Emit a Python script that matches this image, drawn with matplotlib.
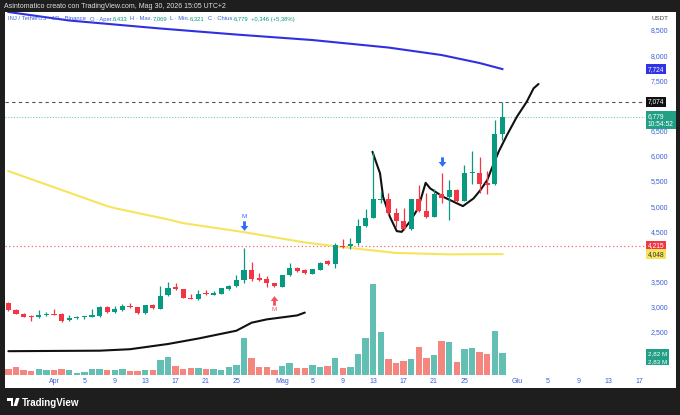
import numpy as np
import pandas as pd
import matplotlib
matplotlib.use('Agg')
import matplotlib.pyplot as plt
import matplotlib.dates as mdates
import matplotlib.transforms as mtransforms
from matplotlib.patches import Rectangle, Polygon
from matplotlib.path import Path

plt.rcParams['font.family'] = ['Liberation Sans', 'DejaVu Sans']

# ---------------- data ----------------
start_date = '2026-03-26'
opens = [3073, 2945, 2860, 2815, 2790, 2834, 2860, 2850, 2735, 2780,
         2790, 2800, 2815, 3000, 2890, 2935, 3020, 2990, 2870, 3030,
         2960, 3230, 3385, 3345, 3185, 3155, 3270, 3245, 3265, 3345,
         3410, 3525, 3725, 3575, 3545, 3465, 3398, 3625, 3775, 3730,
         3655, 3735, 3905, 3860, 4210, 4210, 4260, 4600, 4775, 5130,
         5135, 4870, 4710, 4540, 5135, 4910, 4790, 5240, 5175, 5330,
         5110, 5660, 5665, 5460, 5450, 6433]
highs = [3095, 2960, 2880, 2835, 2946, 2900, 2955, 2870, 2835, 2810,
         2825, 2965, 3010, 3010, 3020, 3060, 3070, 3000, 3045, 3050,
         3410, 3485, 3470, 3360, 3265, 3330, 3330, 3320, 3380, 3430,
         3630, 4170, 3895, 3680, 3620, 3480, 3640, 3875, 3800, 3745,
         3760, 3900, 3925, 4270, 4340, 4360, 4740, 4940, 6080, 5300,
         5270, 4960, 4955, 5150, 5430, 5255, 5350, 5650, 5520, 5345,
         5815, 6100, 5970, 5700, 6710, 7069]
lows = [2910, 2850, 2790, 2720, 2780, 2825, 2830, 2700, 2720, 2765,
        2760, 2790, 2790, 2880, 2880, 2925, 2980, 2860, 2860, 2960,
        2950, 3220, 3330, 3170, 3150, 3145, 3240, 3235, 3255, 3340,
        3400, 3470, 3520, 3520, 3400, 3395, 3390, 3610, 3700, 3660,
        3645, 3725, 3835, 3775, 4170, 4140, 4230, 4580, 4760, 5070,
        4830, 4580, 4520, 4530, 4890, 4770, 4780, 5060, 4720, 5090,
        5100, 5450, 5255, 5250, 5430, 6321]
closes = [2933, 2866, 2800, 2790, 2834, 2860, 2834, 2720, 2780, 2800,
          2815, 2834, 3000, 2890, 2950, 3025, 2990, 2870, 3035, 2970,
          3218, 3377, 3345, 3178, 3158, 3250, 3250, 3280, 3370, 3410,
          3530, 3725, 3545, 3530, 3465, 3405, 3625, 3775, 3715, 3675,
          3745, 3875, 3850, 4225, 4190, 4250, 4600, 4775, 5135, 5140,
          4870, 4710, 4540, 5135, 4910, 4790, 5240, 5155, 5330, 5110,
          5665, 5675, 5450, 5430, 6433, 6779]
volume_m = [0.74, 1.04, 0.65, 0.56, 0.82, 0.65, 0.69, 0.74, 0.65, 0.30,
            0.43, 0.74, 0.82, 0.61, 0.61, 0.82, 0.56, 0.56, 0.61, 0.61,
            1.95, 2.34, 1.17, 0.82, 0.95, 0.91, 0.78, 0.74, 0.65, 1.00,
            1.30, 4.81, 2.21, 1.04, 1.04, 0.69, 1.13, 1.60, 0.87, 0.87,
            1.26, 1.08, 1.21, 2.17, 0.95, 1.08, 2.73, 4.77, 11.83, 5.55,
            2.04, 1.52, 1.78, 2.08, 3.60, 2.21, 2.60, 4.38, 4.29, 1.69,
            3.34, 3.47, 2.99, 2.73, 5.76, 2.82]

# moving averages (day offset from start, value)
ma_blue_day = [0, 8, 20, 30, 40, 50, 57, 62, 65]
ma_blue_val = [8858, 8689, 8530, 8410, 8301, 8152, 8003, 7844, 7724]
ma_yellow_day = [0, 13, 14, 21, 23, 31, 39, 44, 51, 58, 65]
ma_yellow_val = [5697, 5001, 4961, 4737, 4663, 4484, 4279, 4186, 4071, 4043, 4048]

# drawn projection paths (day offset, price)
path_low_day = [0, 12, 16, 21, 25, 30, 32, 34, 38, 39]
path_low_val = [2119, 2129, 2158, 2262, 2371, 2526, 2685, 2751, 2830, 2886]
path_up_day = [47.9, 48.9, 49.3, 50.2, 51.1, 51.75, 52.8, 53.9, 54.9, 55.5, 57.2,
               59.8, 61.2, 62.1, 63.0, 63.6, 64.5, 65.6, 66.9, 68.2, 69.1, 69.75]
path_up_val = [6081, 5651, 5186, 4788, 4504, 4490, 4689, 4955, 5464, 5353, 5186,
               5001, 5154, 5319, 5518, 5751, 6081, 6413, 6776, 7075, 7341, 7427]

# horizontal levels
level_dashed = 7074
level_last = 6779
level_red = 4215

# arrow marks (day offset, price)
arrow_down_day = [31, 57]
arrow_down_val = [4598, 5887]
arrow_up_day = [35]
arrow_up_val = [3136]

y_ticks = [2500, 3000, 3500, 4500, 5000, 5500, 6000, 6500, 7500, 8000, 8500]
x_tick_dates = ['2026-04-01', '2026-04-05', '2026-04-09', '2026-04-13', '2026-04-17',
                '2026-04-21', '2026-04-25', '2026-05-01', '2026-05-05', '2026-05-09',
                '2026-05-13', '2026-05-17', '2026-05-21', '2026-05-25', '2026-06-01',
                '2026-06-05', '2026-06-09', '2026-06-13', '2026-06-17']
x_tick_labels = ['Apr', '5', '9', '13', '17', '21', '25', 'Mag', '5', '9',
                 '13', '17', '21', '25', 'Giu', '5', '9', '13', '17']

# ---------------- figure ----------------
W, H = 680, 415
fig = plt.figure(figsize=(W / 100, H / 100), dpi=100)
fig.patch.set_facecolor('#1e1e1e')


def fx(px):
    return px / W


def fy(py):
    return 1 - py / H


fig.patches.append(Rectangle((fx(5), fy(388)), fx(676) - fx(5), fy(12) - fy(388),
                             transform=fig.transFigure, facecolor='white',
                             edgecolor='none', zorder=-10))

rect = [fx(5), fy(376), fx(645) - fx(5), fy(12) - fy(376)]
vax = fig.add_axes(rect)
ax = fig.add_axes(rect)
vax.set_zorder(1)
ax.set_zorder(2)
for a in (vax, ax):
    a.patch.set_visible(False)
    for s in a.spines.values():
        s.set_visible(False)

dates = pd.date_range(start_date, periods=len(opens), freq='D')
x0 = mdates.date2num(pd.Timestamp(start_date))
xs = mdates.date2num(dates)
o = np.array(opens, float)
h = np.array(highs, float)
l = np.array(lows, float)
c = np.array(closes, float)
up = c >= o

GREEN = '#089981'
RED = '#f23645'
VGREEN = '#63bfb4'
VRED = '#f5867f'

# volume
vcols = [VGREEN if u else VRED for u in up]
vax.bar(xs, volume_m, width=0.86, color=vcols, linewidth=0)
vax.set_ylim(-0.13, 47.2)
vax.set_xlim(x0 - 0.447, x0 + 83.76)
vax.set_xticks([])
vax.set_yticks([])

# price
ax.set_xlim(x0 - 0.447, x0 + 83.76)
ax.set_ylim(1626, 8858)

ax.axhline(level_dashed, color='#555555', lw=0.8, ls=(0, (3, 3)), zorder=1)
ax.axhline(level_last, color='#7cc9bf', lw=0.8, ls=(0, (1, 1.5)), zorder=1)
ax.axhline(level_red, color='#f06b73', lw=0.9, ls=(0, (1, 2)), zorder=1)

ax.plot(x0 + np.array(ma_blue_day), ma_blue_val, color='#3030e0', lw=1.5, zorder=3)
ax.plot(x0 + np.array(ma_yellow_day), ma_yellow_val, color='#f6e45c', lw=1.5, zorder=3)
ax.plot(x0 + np.array(path_low_day), path_low_val, color='#111111', lw=1.5, zorder=4,
        solid_capstyle='round')
ax.plot(x0 + np.array(path_up_day), path_up_val, color='#111111', lw=1.5, zorder=4,
        solid_capstyle='round')

ccols = np.where(up, GREEN, RED)
ax.vlines(xs, l, h, colors=ccols, lw=0.9, zorder=5)
body_h = np.maximum(np.abs(c - o), 18)
ax.bar(xs, body_h, bottom=np.minimum(o, c), width=0.66, color=ccols, linewidth=0, zorder=6)

# arrows
down_arrow = Path([(-0.28, 1), (0.28, 1), (0.28, 0.1), (0.75, 0.1), (0, -0.85),
                   (-0.75, 0.1), (-0.28, 0.1), (-0.28, 1)])
up_arrow = Path([(x, -y) for x, y in down_arrow.vertices])
ax.scatter(x0 + np.array(arrow_down_day), arrow_down_val, marker=down_arrow, s=55,
           color='#2f6bff', zorder=7, linewidths=0)
ax.scatter(x0 + np.array(arrow_up_day), arrow_up_val, marker=up_arrow, s=55,
           color='#f5525f', zorder=7, linewidths=0)
ax.annotate('M', (x0 + arrow_down_day[0], arrow_down_val[0]), xytext=(0, 7),
            textcoords='offset points', ha='center', va='center', fontsize=4.5,
            color='#2f6bff')
ax.annotate('M', (x0 + arrow_up_day[0], arrow_up_val[0]), xytext=(0, -7),
            textcoords='offset points', ha='center', va='center', fontsize=4.5,
            color='#f5525f')

# ticks
TICKC = '#3b5fd6'
ax.yaxis.tick_right()
ax.set_yticks(y_ticks)
ax.set_yticklabels([f'{v:,}' for v in y_ticks])
ax.tick_params(axis='y', length=0, pad=4, labelsize=5, labelcolor=TICKC)
ax.set_xticks(mdates.date2num(pd.to_datetime(x_tick_dates)))
ax.set_xticklabels(x_tick_labels)
ax.tick_params(axis='x', length=0, pad=1.5, labelsize=5, labelcolor=TICKC)

# right axis labels
ytr = ax.get_yaxis_transform()


def plabel(val, text, bg, fg, dy=0):
    tr = mtransforms.offset_copy(ytr, fig=fig, x=0, y=dy, units='points')
    ax.text(1.0 + 3 / 640, val, text, transform=tr, ha='left', va='center',
            fontsize=4.8, color=fg, clip_on=False, zorder=10,
            bbox=dict(boxstyle='square,pad=0.25', fc=bg, ec='none'))


plabel(ma_blue_val[-1], f'{ma_blue_val[-1]:,}', '#3131e6', 'white')
plabel(level_dashed, f'{level_dashed:,}', '#111111', 'white')
plabel(level_last, f'{level_last:,}\n10:54:52', '#22a086', 'white', dy=-2.5)
plabel(level_red, f'{level_red:,}', '#f23645', 'white')
plabel(ma_yellow_val[-1], f'{ma_yellow_val[-1]:,}', '#f6e45c', '#333333')

vtr = vax.get_yaxis_transform()
for k, t in enumerate(['2,82 M', '2,83 M']):
    tr = mtransforms.offset_copy(vtr, fig=fig, x=0, y=-5.8 * k, units='points')
    vax.text(1.0 + 3 / 640, volume_m[-1], t, transform=tr, ha='left', va='center',
             fontsize=4.5, color='white', clip_on=False, zorder=10,
             bbox=dict(boxstyle='square,pad=0.25', fc='#22a086', ec='none'))

fig.text(fx(652), fy(19), 'USDT', fontsize=4.5, color='#444444', va='center', ha='left')

# header texts
fig.text(fx(4), fy(6), 'Asintomatico creato con TradingView.com, Mag 30, 2026 15:05 UTC+2',
         fontsize=5, color='#e0e0e0', va='center', ha='left')

renderer = fig.canvas.get_renderer()
xpos = 8
pieces = [('INJ / TetherUS · 1D · Binance', '#3b5fd6', 4),
          ('O · Aper.', '#3b5fd6', 0), ('6,433', '#089981', 3),
          ('H · Max.', '#3b5fd6', 0), ('7,069', '#089981', 3),
          ('L · Min.', '#3b5fd6', 0), ('6,321', '#089981', 3),
          ('C · Chius.', '#3b5fd6', 0), ('6,779', '#089981', 3),
          ('+0,346 (+5,38%)', '#089981', 0)]
for txt, col, gap in pieces:
    t = fig.text(fx(xpos), fy(19), txt, fontsize=4.2, color=col, va='center', ha='left')
    bb = t.get_window_extent(renderer=renderer)
    xpos += bb.width + gap

# footer logo
fig.patches.append(Polygon([(fx(7), fy(398)), (fx(13), fy(398)), (fx(13), fy(406)),
                            (fx(10.5), fy(406)), (fx(10.5), fy(400.5)), (fx(7), fy(400.5))],
                           closed=True, transform=fig.transFigure, fc='white', ec='none'))
fig.patches.append(Polygon([(fx(16), fy(398)), (fx(19.5), fy(398)), (fx(17), fy(406)),
                            (fx(13.5), fy(406))],
                           closed=True, transform=fig.transFigure, fc='white', ec='none'))
fig.text(fx(22), fy(402.5), 'TradingView', fontsize=7, color='white', weight='bold',
         va='center', ha='left')

fig.savefig('out.png', dpi=100, facecolor=fig.get_facecolor())
